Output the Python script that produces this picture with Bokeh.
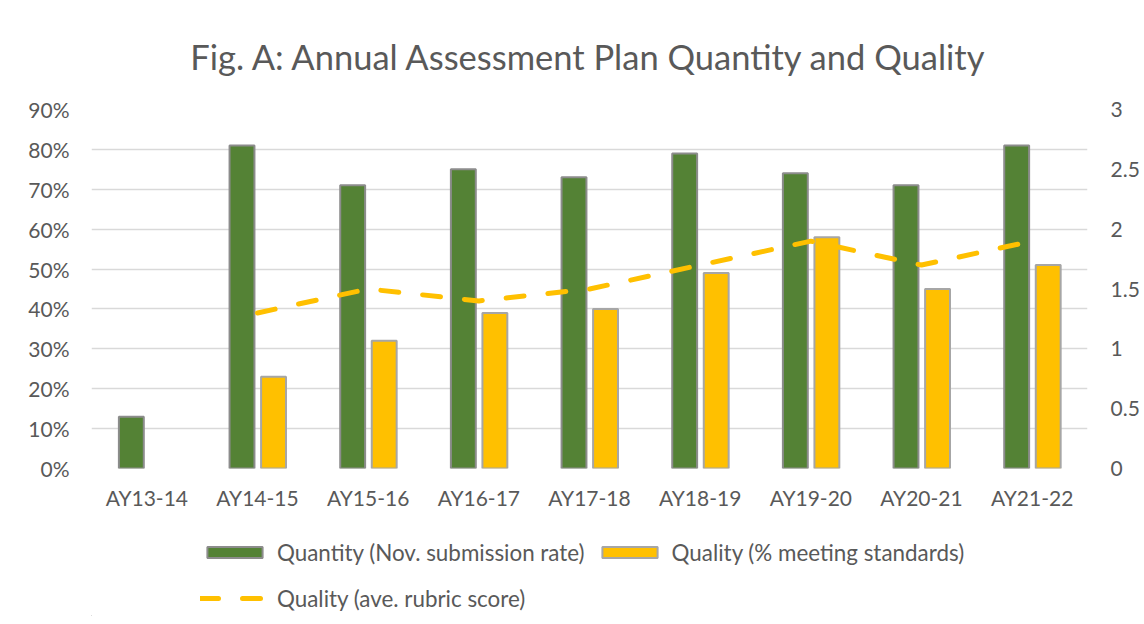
import numpy as np
from bokeh.plotting import figure
from bokeh.layouts import column
from bokeh.models import (FactorRange, Range1d, LinearAxis, FixedTicker, NumeralTickFormatter,
                          CustomJSTickFormatter, Legend, LegendItem, ColumnDataSource)
from bokeh.transform import dodge
from bokeh.embed import file_html
from bokeh.resources import INLINE

# ---- data ----
years = ["AY13-14", "AY14-15", "AY15-16", "AY16-17", "AY17-18",
         "AY18-19", "AY19-20", "AY20-21", "AY21-22"]
quantity = [0.13, 0.81, 0.71, 0.75, 0.73, 0.79, 0.74, 0.71, 0.81]
quality_pct = [np.nan, 0.23, 0.32, 0.39, 0.40, 0.49, 0.58, 0.45, 0.51]
rubric = [np.nan, 1.3, 1.5, 1.4, 1.5, 1.7, 1.9, 1.7, 1.9]
left_ticks = [0.0, 0.1, 0.2, 0.3, 0.4, 0.5, 0.6, 0.7, 0.8, 0.9]
right_ticks = [0, 0.5, 1, 1.5, 2, 2.5, 3]

title_text = "Fig. A: Annual Assessment Plan Quantity and Quality"
label_qty = "Quantity (Nov. submission rate)"
label_pct = "Quality (% meeting standards)"
label_rub = "Quality (ave. rubric score)"

FONT = "Lato"
TXT = "#595959"
GREEN = "#548235"
GOLD = "#FFC000"
GRID = "#D9D9D9"
BAR_STYLE_Q = dict(fill_color=GREEN, line_color="#8C8C8C", line_width=2)
BAR_STYLE_P = dict(fill_color=GOLD, line_color="#A6A6A6", line_width=2)
LINE_STYLE = dict(line_color=GOLD, line_width=5, line_dash="18 24", line_cap="round")

src = ColumnDataSource(dict(years=years, quantity=quantity,
                            quality_pct=quality_pct, rubric=rubric))

W = 1142
p = figure(width=W, height=528, x_range=FactorRange(factors=years, range_padding=0),
           y_range=Range1d(0, 0.9), output_backend="svg", toolbar_location=None,
           min_border_left=91, min_border_right=54, min_border_top=108, min_border_bottom=60)
p.extra_y_ranges = {"right": Range1d(0, 3)}

p.outline_line_color = None
p.background_fill_color = "white"
p.border_fill_color = "white"

# title
p.title.text = title_text
p.title.align = "center"
p.title.text_font = FONT
p.title.text_font_size = "34.5px"
p.title.text_font_style = "normal"
p.title.text_color = TXT
p.title.standoff = 66

# bars
r_qty = p.vbar(x=dodge("years", -0.14, range=p.x_range), top="quantity", width=0.225,
               source=src, **BAR_STYLE_Q)
r_pct = p.vbar(x=dodge("years", 0.145, range=p.x_range), top="quality_pct", width=0.225,
               source=src, **BAR_STYLE_P)

# line on right axis
r_rub = p.line(x="years", y="rubric", source=src, y_range_name="right", **LINE_STYLE)

# axes
p.yaxis.ticker = FixedTicker(ticks=left_ticks)
p.yaxis.formatter = NumeralTickFormatter(format="0%")
p.yaxis.axis_line_color = None
p.yaxis.major_tick_line_color = None
p.yaxis.minor_tick_line_color = None
p.yaxis.major_tick_out = 0
p.yaxis.major_tick_in = 0
p.yaxis.major_label_standoff = 22
p.yaxis.major_label_text_font = FONT
p.yaxis.major_label_text_font_size = "21px"
p.yaxis.major_label_text_color = TXT

ax_r = LinearAxis(y_range_name="right", ticker=FixedTicker(ticks=right_ticks),
                  formatter=CustomJSTickFormatter(code="return String(tick)"))
ax_r.axis_line_color = None
ax_r.major_tick_line_color = None
ax_r.minor_tick_line_color = None
ax_r.major_tick_out = 0
ax_r.major_tick_in = 0
ax_r.major_label_standoff = 23
ax_r.major_label_text_font = FONT
ax_r.major_label_text_font_size = "21px"
ax_r.major_label_text_color = TXT
p.add_layout(ax_r, "right")

p.xaxis.axis_line_color = None
p.xaxis.major_tick_line_color = None
p.xaxis.minor_tick_line_color = None
p.xaxis.major_label_standoff = 10
p.xaxis.major_label_text_font = FONT
p.xaxis.major_label_text_font_size = "21px"
p.xaxis.major_label_text_color = TXT

p.xgrid.grid_line_color = None
p.ygrid.grid_line_color = GRID
p.ygrid.grid_line_width = 1.3

# legend strip (separate figure so the legend is not clipped by the plot frame)
lg = figure(width=W, height=88, output_backend="svg", toolbar_location=None,
            x_axis_location=None, y_axis_location=None,
            x_range=Range1d(0, 1), y_range=Range1d(0, 1),
            min_border_left=0, min_border_right=0, min_border_top=0, min_border_bottom=0)
lg.outline_line_color = None
lg.grid.grid_line_color = None
# proxies placed outside the visible range, only used for the legend glyphs
proxy = ColumnDataSource(dict(x=[-10.0], y=[-10.0], top=[-10.0]))
d_qty = lg.vbar(x="x", top="top", width=0.1, source=proxy, **BAR_STYLE_Q)
d_pct = lg.vbar(x="x", top="top", width=0.1, source=proxy, **BAR_STYLE_P)
d_rub = lg.line(x="x", y="y", source=proxy, **LINE_STYLE)

legend = Legend(items=[LegendItem(label=label_qty, renderers=[d_qty], index=0),
                       LegendItem(label=label_pct, renderers=[d_pct], index=0),
                       LegendItem(label=label_rub, renderers=[d_rub], index=0)],
                orientation="horizontal", ncols=2, location=(109, 0),
                glyph_width=69, glyph_height=14, label_height=36, label_standoff=8,
                spacing=10, padding=0, margin=0,
                border_line_color=None, background_fill_alpha=0,
                label_text_font=FONT, label_text_font_size="22.4px", label_text_color=TXT)
lg.add_layout(legend, "center")

layout = column(p, lg, spacing=0)
open("out.html", "w").write(file_html(layout, INLINE))
